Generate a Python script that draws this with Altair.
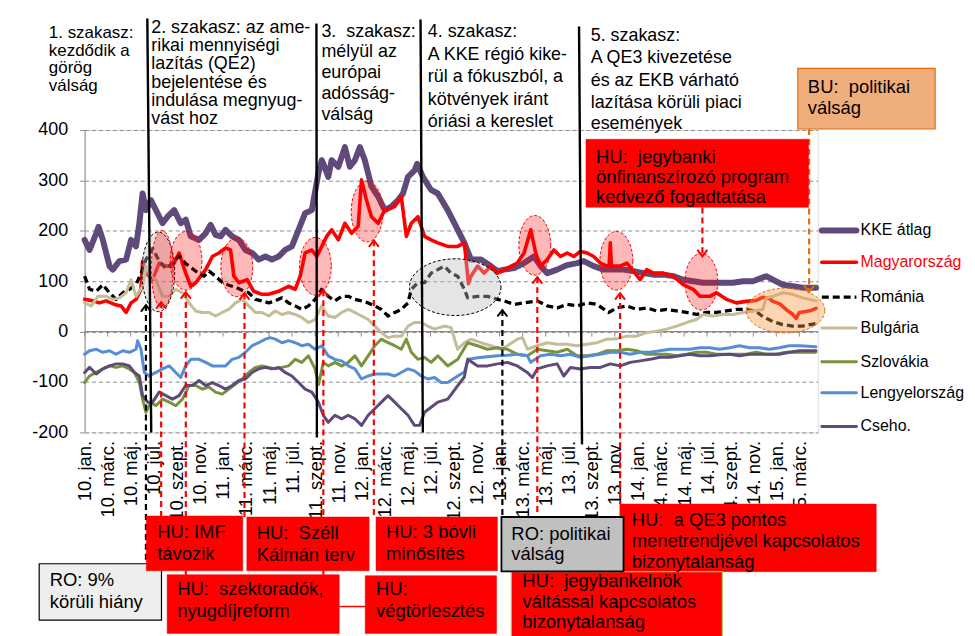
import altair as alt
import pandas as pd

FONT = "Liberation Sans"
NB = "\u00a0"  # keeps the double spaces of the original labels visible

# ---------------- data ----------------
tick_labels = ["10. jan.", "10. márc.", "10. máj.", "10. júl.", "10. szept.", "10. nov.",
               "11. jan.", "11. márc.", "11. máj.", "11. júl.", "11. szept.", "11. nov.",
               "12. jan.", "12. márc.", "12. máj.", "12. júl.", "12. szept.", "12. nov.",
               "13. jan.", "13. márc.", "13. máj.", "13. júl.", "13. szept.", "13. nov.",
               "14. jan.", "14. márc.", "14. máj.", "14. júl.", "14. szept.", "14. nov.",
               "15. jan.", "15. márc."]
tick_months = list(range(0, 64, 2))          # months since 2010 Jan
y_ticks = [-200, -100, 0, 100, 200, 300, 400]

# (months since 2010-01, value)
kke = [(0,182),(0.43,162),(1.01,195),(1.21,208),(1.58,182),(2.16,130),(2.45,123),(3.02,140),(3.6,143),(4.03,182),
       (4.46,169),(4.75,215),(5.03,274),(5.32,241),(5.75,261),(6.19,241),(6.76,215),(7.19,228),(7.77,241),(8.34,215),
       (8.77,222),(9.21,189),(9.93,182),(10.5,195),(10.93,212),(11.36,192),(11.8,189),(12.23,202),(12.8,189),(13.38,182),
       (13.95,162),(14.53,156),(15.1,143),(15.68,149),(16.25,143),(16.83,149),(17.4,162),(17.98,169),(18.56,202),(19.13,235),
       (19.71,241),(20.28,314),(20.57,340),(20.71,333),(21.14,307),(21.43,340),(22.01,327),(22.58,366),(23.01,327),(23.45,340),
       (23.88,366),(24.31,340),(24.88,288),(25.46,268),(26.04,241),(26.61,248),(27.19,261),(27.62,274),(28.05,307),(28.62,320),
       (28.85,333),(29.34,307),(30.06,281),(30.64,274),(31.5,241),(32.37,202),(32.94,176),(33.52,143),(34.38,143),(35.24,130),
       (35.82,120),(36.39,123),(37.26,126),(38.12,136),(38.98,149),(39.56,130),(40.13,116),(40.99,123),(41.86,132),(42.72,136),
       (43.3,140),(44.16,130),(45.02,123),(45.89,123),(46.75,123),(47.61,120),(48.48,116),(49.34,113),(50.2,113),(51.07,110),
       (51.93,103),(52.79,100),(53.65,97),(54.52,97),(55.38,97),(56.24,97),(57.11,100),(57.97,100),(59.12,110),(59.7,103),
       (60.56,93),(61.42,90),(62.28,87),(63.44,87)]
hu = [(0,64),(0.72,61),(1.29,57),(1.87,61),(2.59,54),(3.16,51),(3.6,38),(4.03,57),(4.46,64),(4.89,84),(5.03,140),
      (5.32,116),(5.9,103),(6.47,136),(7.05,130),(7.62,130),(8.2,156),(8.77,116),(9.21,90),(9.64,97),(10.07,110),(10.5,123),
      (11.08,149),(11.65,156),(12.23,166),(12.66,162),(12.95,110),(13.38,97),(14.1,103),(14.67,80),(15.39,74),(15.97,74),
      (16.83,80),(17.69,90),(18.27,84),(18.7,110),(19.13,156),(19.71,162),(20.14,149),(20.57,169),(21.0,189),(21.43,202),
      (22.01,182),(22.58,215),(23.16,195),(23.73,209),(24.02,301),(24.45,261),(24.88,228),(25.46,215),(26.04,241),(26.9,248),
      (27.47,268),(27.91,189),(28.34,215),(28.91,228),(29.49,189),(30.06,182),(30.64,176),(31.5,169),(32.36,169),(32.94,176),
      (33.3,95),(33.52,110),(34.09,130),(34.67,116),(35.24,130),(35.82,116),(36.68,126),(37.54,136),(38.12,156),(38.7,202),
      (39.13,156),(39.56,130),(40.13,143),(40.71,162),(41.28,149),(41.86,156),(42.43,149),(43.01,159),(43.59,156),(44.16,149),
      (44.74,136),(45.31,130),(45.5,130),(45.6,176),(45.7,130),(46.46,130),(47.04,136),(47.61,120),(48.19,103),(48.76,123),
      (49.34,116),(50.2,116),(51.07,110),(51.93,93),(52.79,84),(53.37,70),(54.23,70),(54.81,77),(55.67,64),(56.53,57),
      (57.39,60),(58.26,62),(58.83,68),(59.4,66),(59.7,60),(60.3,55),(60.85,44),(61.4,35),(61.71,26),(62.0,38),(62.57,40),
      (63.0,42),(63.44,46)]
ro = [(0,110),(0.43,84),(1.01,80),(1.58,93),(2.16,77),(2.73,64),(3.31,77),(3.88,84),(4.46,93),(5.03,123),(5.32,143),
      (5.9,165),(6.47,140),(7.05,125),(7.62,136),(8.2,150),(8.77,135),(9.35,125),(9.93,115),(10.36,110),(10.79,120),
      (11.36,110),(11.94,98),(12.51,92),(13.09,88),(13.67,82),(14.24,77),(14.82,64),(15.39,61),(15.97,57),(16.54,61),
      (17.12,67),(17.69,57),(18.27,51),(18.84,44),(19.42,51),(19.99,64),(20.57,84),(21.14,70),(21.72,61),(22.3,70),
      (22.87,70),(23.45,64),(24.02,61),(24.6,57),(25.17,51),(25.75,44),(26.32,31),(26.9,38),(27.47,44),(28.05,57),
      (28.34,84),(28.91,97),(29.49,97),(30.06,116),(30.64,123),(31.21,130),(31.79,116),(32.36,110),(32.94,84),(33.23,67),
      (34.09,70),(34.95,70),(35.82,64),(36.39,61),(37.26,54),(38.12,57),(39.27,61),(40.13,51),(40.99,47),(41.86,54),
      (42.72,51),(43.59,57),(44.45,54),(45.46,38),(46.17,47),(47.04,51),(47.9,44),(48.76,47),(49.63,41),(50.49,44),
      (51.35,41),(52.22,38),(53.08,34),(53.94,38),(54.81,38),(55.67,41),(56.53,44),(57.39,44),(58.26,40),(58.83,30),
      (59.7,20),(60.56,14),(61.42,11),(62.28,11),(63.44,16)]
bg = [(0,57),(0.58,51),(1.15,70),(1.87,70),(2.45,64),(3.02,67),(3.6,77),(4.03,103),(4.46,70),(5.03,90),(5.32,130),
      (5.75,110),(6.19,103),(6.76,70),(7.34,70),(7.91,84),(8.49,77),(9.06,57),(9.64,41),(10.21,38),(10.79,38),(11.36,31),
      (11.94,38),(12.51,44),(13.09,57),(13.67,64),(14.24,51),(14.82,38),(15.39,38),(15.97,31),(16.54,41),(17.12,34),
      (17.69,38),(18.27,34),(18.84,28),(19.42,18),(19.99,24),(20.57,51),(21.14,31),(21.72,28),(22.3,38),(22.87,44),
      (23.45,38),(24.02,31),(24.6,24),(25.17,11),(25.75,-2),(26.32,-12),(26.9,-9),(27.47,-9),(28.05,11),(28.62,18),
      (29.2,18),(29.78,11),(30.35,5),(31.21,11),(31.79,8),(32.36,-35),(32.94,-22),(33.52,-15),(34.38,-22),(35.24,-28),
      (36.11,-35),(36.68,-28),(37.54,-15),(37.98,-12),(38.41,-35),(39.27,-28),(40.13,-22),(40.99,-25),(41.86,-25),
      (42.72,-28),(43.59,-25),(44.45,-22),(45.31,-15),(46.17,-14),(47.04,-9),(47.9,-9),(48.76,-2),(49.63,1),(50.49,5),
      (51.35,11),(52.22,18),(53.08,24),(53.65,34),(54.52,31),(55.38,34),(56.24,34),(57.11,38),(57.97,41),(58.83,44),
      (59.12,67),(59.7,70),(60.56,77),(61.42,74),(62.28,67),(63.44,61)]
sk = [(0,-101),(0.43,-88),(1.01,-81),(1.58,-74),(2.16,-68),(2.73,-71),(3.31,-68),(3.88,-74),(4.32,-81),(4.75,-101),
      (5.03,-134),(5.32,-160),(5.75,-140),(6.19,-147),(6.76,-134),(7.34,-140),(7.91,-147),(8.49,-134),(9.06,-107),
      (9.64,-107),(10.21,-114),(10.79,-110),(11.36,-120),(11.94,-124),(12.51,-114),(13.09,-104),(13.67,-94),(14.24,-81),
      (14.82,-71),(15.39,-68),(15.97,-71),(16.54,-74),(17.12,-71),(17.69,-68),(18.27,-55),(18.84,-61),(19.42,-48),
      (19.99,-74),(20.3,-105),(20.71,-61),(21.14,-68),(21.72,-61),(22.3,-68),(22.87,-61),(23.45,-48),(24.02,-68),
      (24.6,-48),(25.17,-28),(25.75,-15),(26.32,-22),(26.9,-28),(27.47,-35),(27.91,-15),(28.34,-41),(28.91,-55),
      (29.49,-51),(30.06,-61),(30.64,-48),(31.5,-68),(32.37,-55),(33.23,-22),(34.09,-28),(34.95,-35),(35.82,-32),
      (36.68,-35),(37.54,-45),(38.41,-48),(39.27,-35),(40.13,-38),(40.99,-41),(41.86,-35),(42.72,-48),(43.59,-48),
      (44.45,-45),(45.31,-38),(46.17,-38),(47.04,-35),(47.9,-38),(48.76,-45),(49.63,-45),(50.49,-45),(51.35,-48),
      (52.22,-45),(53.08,-41),(53.94,-41),(54.81,-45),(55.67,-45),(56.53,-45),(57.39,-45),(58.26,-41),(59.12,-45),
      (59.98,-45),(60.85,-41),(61.71,-41),(62.57,-41),(63.44,-41)]
pl = [(0,-45),(0.43,-38),(1.01,-35),(1.58,-41),(2.16,-38),(2.73,-45),(3.31,-38),(3.88,-41),(4.46,-35),(4.6,-18),
      (4.89,-35),(5.18,-81),(5.61,-88),(6.19,-81),(6.76,-74),(7.34,-68),(7.91,-81),(8.34,-91),(8.77,-68),(9.21,-55),
      (9.93,-55),(10.5,-61),(11.08,-68),(11.65,-68),(12.23,-68),(12.8,-55),(13.38,-51),(13.95,-41),(14.53,-28),(15.1,-22),
      (15.68,-15),(16.11,-12),(16.54,-15),(17.12,-22),(17.69,-18),(18.27,-22),(18.84,-28),(19.42,-25),(19.99,-35),
      (20.57,-28),(21.14,-48),(21.72,-55),(22.3,-58),(22.87,-68),(23.45,-74),(24.02,-94),(24.6,-88),(25.17,-84),
      (25.75,-84),(26.32,-84),(26.9,-88),(27.47,-81),(28.05,-74),(28.62,-78),(29.2,-88),(29.78,-94),(30.35,-91),
      (30.93,-101),(31.5,-101),(32.37,-88),(32.94,-80),(33.3,-55),(34.09,-52),(34.95,-50),(35.82,-48),(36.68,-47),
      (37.54,-45),(38.41,-48),(38.7,-61),(39.56,-48),(40.42,-45),(41.28,-48),(42.15,-45),(43.01,-51),(43.87,-48),
      (44.74,-45),(45.6,-41),(46.46,-41),(47.33,-45),(48.19,-41),(49.05,-41),(49.91,-38),(50.78,-35),(51.64,-35),
      (52.5,-35),(53.37,-32),(54.23,-32),(55.09,-35),(55.96,-32),(56.82,-28),(57.68,-32),(58.54,-32),(59.41,-35),
      (60.27,-32),(61.13,-28),(62.0,-28),(63.44,-30)]
cz = [(0,-81),(0.43,-71),(1.01,-84),(1.58,-74),(2.16,-68),(2.73,-64),(3.31,-64),(3.88,-68),(4.32,-81),(4.75,-88),
      (5.03,-127),(5.47,-140),(5.9,-140),(6.47,-120),(7.05,-127),(7.62,-134),(8.2,-127),(8.77,-107),(9.35,-107),
      (9.93,-97),(10.5,-107),(11.08,-101),(11.65,-107),(12.23,-114),(12.8,-107),(13.38,-97),(13.95,-94),(14.53,-81),
      (15.1,-74),(15.68,-71),(16.25,-74),(16.83,-71),(17.4,-81),(17.98,-88),(18.56,-101),(19.13,-114),(19.71,-120),
      (20.28,-140),(20.71,-166),(21.14,-180),(21.72,-166),(22.3,-173),(22.87,-166),(23.45,-173),(24.02,-186),
      (24.6,-166),(25.17,-153),(25.75,-140),(26.32,-127),(26.9,-140),(27.47,-153),(28.05,-166),(28.62,-186),
      (29.06,-186),(29.49,-160),(30.06,-150),(30.64,-140),(31.5,-134),(32.37,-107),(32.94,-90),(33.23,-55),(34.09,-68),
      (34.95,-68),(35.82,-64),(36.68,-61),(37.54,-68),(38.41,-81),(38.84,-91),(39.27,-74),(40.13,-68),(40.99,-64),
      (41.57,-88),(42.15,-71),(43.01,-74),(43.87,-71),(44.74,-71),(45.6,-64),(46.46,-68),(47.33,-61),(48.19,-58),
      (49.05,-55),(49.91,-51),(50.78,-51),(51.64,-48),(52.5,-45),(53.37,-48),(54.23,-48),(55.09,-46),(55.96,-45),
      (56.82,-48),(57.68,-45),(58.54,-45),(59.41,-45),(60.27,-45),(61.13,-41),(62.0,-38),(63.44,-38)]

series_names = ["KKE átlag", "Magyarország", "Románia", "Bulgária", "Szlovákia", "Lengyelország", "Cseho."]
series_points = [kke, hu, ro, bg, sk, pl, cz]

# ---------------- styles ----------------
styles = {
    "KKE átlag":     dict(color="#604A7B", width=6.0, dash=None),
    "Magyarország":  dict(color="#FF0000", width=3.6, dash=None),
    "Románia":       dict(color="#000000", width=3.3, dash=[7, 4]),
    "Bulgária":      dict(color="#C4BD97", width=3.0, dash=None),
    "Szlovákia":     dict(color="#77933C", width=3.0, dash=None),
    "Lengyelország": dict(color="#558ED5", width=3.0, dash=None),
    "Cseho.":        dict(color="#604A7B", width=3.0, dash=None),
}
legend_label_color = {"Magyarország": "#FF0000"}
legend_pos_v = [200.7, 137.5, 68.4, 7.2, -59.9, -121.1, -188.2]
GRAY = "#8C8C8C"

xs = alt.Scale(domain=[0, 63.6], nice=False, zero=False)
ys = alt.Scale(domain=[-200, 400], nice=False, zero=False)
label_expr = "[" + ",".join("'" + l + "'" for l in tick_labels) + "][round(datum.value/2)]"
x_axis = alt.Axis(values=tick_months, labelExpr=label_expr, labelAngle=270, labelAlign="right",
                  labelBaseline="middle", labelPadding=8, labelFontSize=18.5, labelFont=FONT,
                  labelColor="#000000", grid=False, domain=False, ticks=False, title=None,
                  labelOverlap=False, labelFlush=False, labelBound=False)
y_axis = alt.Axis(values=y_ticks, labelExpr="''+datum.value", labelFontSize=18, labelFont=FONT,
                  labelColor="#000000", labelPadding=12, tickSize=5, tickColor=GRAY, domainColor=GRAY,
                  gridColor=GRAY, gridDash=[4, 3], gridWidth=1, title=None)


def XY():
    return dict(x=alt.X("m:Q", scale=xs, axis=x_axis), y=alt.Y("v:Q", scale=ys, axis=y_axis))


layers = []

# zero axis line with ticks
layers.append(alt.Chart(pd.DataFrame({"m": [0], "m2": [63.6], "v": [0]}))
              .mark_rule(color=GRAY, strokeWidth=1.3).encode(**XY(), x2="m2:Q"))
layers.append(alt.Chart(pd.DataFrame({"m": tick_months, "v": [0] * len(tick_months), "v2": [-9.9] * len(tick_months)}))
              .mark_rule(color=GRAY, strokeWidth=1).encode(**XY(), y2="v2:Q"))

# series lines
for name, pts in zip(series_names, series_points):
    st = styles[name]
    df = pd.DataFrame(pts, columns=["m", "v"])
    kw = dict(color=st["color"], strokeWidth=st["width"], strokeJoin="round")
    if st["dash"]:
        kw["strokeDash"] = st["dash"]
    else:
        kw["strokeCap"] = "round"
    layers.append(alt.Chart(df).mark_line(**kw).encode(**XY()))


# ---------------- annotations ----------------
def ellipse_path(w, h):
    s = max(w, h)
    a, b, k = w / s, h / s, 0.5523
    f = lambda z: f"{z:.4f}"
    return (f"M {f(a)} 0 C {f(a)} {f(k*b)} {f(k*a)} {f(b)} 0 {f(b)} "
            f"C {f(-k*a)} {f(b)} {f(-a)} {f(k*b)} {f(-a)} 0 "
            f"C {f(-a)} {f(-k*b)} {f(-k*a)} {f(-b)} 0 {f(-b)} "
            f"C {f(k*a)} {f(-b)} {f(a)} {f(-k*b)} {f(a)} 0 Z")


ell_style = {"g": ("#BFBFBF", "#000000", 0.4), "r": ("#FF0000", "#FF0000", 0.28), "o": ("#F79646", "#E46C0A", 0.4)}
ellipses = [("g", 6.39, 118.4, 33, 80), ("g", 32.15, 88.2, 92, 57),
            ("r", 6.73, 123.6, 22, 78), ("r", 8.80, 140.5, 32, 59), ("r", 13.20, 127.6, 32, 59),
            ("r", 20.02, 129.6, 32, 58), ("r", 24.51, 238.2, 32, 61), ("r", 39.05, 171.1, 32, 60),
            ("r", 46.13, 140.5, 33, 59), ("r", 53.50, 99.0, 33, 57), ("o", 60.80, 41.8, 79, 45)]
ell_df = pd.DataFrame([dict(m=m, v=v, shape=ellipse_path(w, h), size=max(w, h) ** 2,
                            fill=ell_style[k][0], stroke=ell_style[k][1], fo=ell_style[k][2])
                       for k, m, v, w, h in ellipses])
layers.append(alt.Chart(ell_df).mark_point(filled=True, opacity=1, strokeWidth=1, strokeDash=[3, 2]).encode(
    **XY(), shape=alt.Shape("shape:N", scale=None), size=alt.Size("size:Q", scale=None),
    fill=alt.Fill("fill:N", scale=None), stroke=alt.Stroke("stroke:N", scale=None),
    fillOpacity=alt.FillOpacity("fo:Q", scale=None)))

# phase separator lines
phase_lines = [(5.44, 621.1, 5.78, -200), (20.11, 611.2, 20.15, -209.9),
               (29.14, 619.1, 29.34, -200), (42.89, 605.3, 43.15, -223.7)]
layers.append(alt.Chart(pd.DataFrame(phase_lines, columns=["m", "v", "m2", "v2"]))
              .mark_rule(color="#000000", strokeWidth=2.4).encode(**XY(), x2="m2:Q", y2="v2:Q"))

# dashed arrows
RED, BLK, ORG = "#FF0000", "#000000", "#E46C0A"
arrows = [(5.32, 52.6, -460.5, BLK, "up"), (6.64, 58.6, -365.8, RED, "up"), (8.78, 78.4, -482.2, RED, "up"),
          (13.87, 76.3, -367.8, RED, "up"), (20.71, 82.2, -484.2, RED, "up"), (25.09, 181.1, -367.8, RED, "up"),
          (39.27, 108.0, -476.3, RED, "up"), (46.45, 76.3, -342.1, RED, "up"), (36.24, 42.8, -367.8, BLK, "up"),
          (53.59, 246.1, 149.3, RED, "down"), (62.85, 402.0, 78.3, ORG, "down")]
arr_df = pd.DataFrame(arrows, columns=["m", "v", "v2", "c", "dir"])
layers.append(alt.Chart(arr_df).mark_rule(strokeWidth=2.2, strokeDash=[6, 4]).encode(
    **XY(), y2="v2:Q", color=alt.Color("c:N", scale=None)))
head_df = pd.DataFrame([dict(m=m, v=(v if d == "up" else v2), c=c,
                             shape=("M -1 1.3 L 0 0 L 1 1.3" if d == "up" else "M -1 -1.3 L 0 0 L 1 -1.3"))
                        for m, v, v2, c, d in arrows])
layers.append(alt.Chart(head_df).mark_point(filled=False, opacity=1, strokeWidth=2, size=100).encode(
    **XY(), shape=alt.Shape("shape:N", scale=None), stroke=alt.Stroke("c:N", scale=None)))

# connector
layers.append(alt.Chart(pd.DataFrame({"m": [22.09], "m2": [24.34], "v": [-545.4]}))
              .mark_rule(color=RED, strokeWidth=1.5).encode(**XY(), x2="m2:Q"))

# boxes
boxes = [(61.87, 73.78, 522.4, 402.0, "#F0AE7C", "#E46C0A", 1.2),
         (43.49, 62.80, 381.6, 246.6, RED, RED, 0.5),
         (-3.94, 6.67, -460.5, -572.4, "#EEEEEE", "#000000", 1.2),
         (5.35, 13.72, -365.8, -474.3, RED, RED, 0.5),
         (14.07, 24.68, -367.8, -474.3, RED, RED, 0.5),
         (25.28, 35.81, -367.8, -474.3, RED, RED, 0.5),
         (7.16, 22.09, -482.2, -598.7, RED, RED, 0.5),
         (24.34, 35.73, -484.2, -598.7, RED, RED, 0.5),
         (46.43, 68.67, -342.1, -476.3, RED, RED, 0.5),
         (37.02, 55.32, -476.3, -620.0, RED, "#92D050", 1.2),
         (36.16, 46.75, -367.8, -475.8, "#C0C0C0", "#000000", 1.8)]
box_df = pd.DataFrame(boxes, columns=["m", "m2", "v", "v2", "fill", "stroke", "sw"])
layers.append(alt.Chart(box_df).mark_rect().encode(
    **XY(), x2="m2:Q", y2="v2:Q", fill=alt.Fill("fill:N", scale=None),
    stroke=alt.Stroke("stroke:N", scale=None), strokeWidth=alt.StrokeWidth("sw:Q", scale=None)))

# texts
text_blocks = [
    (-3.1, 17, [(582.2, "1. szakasz:"), (547.2, "kezdődik a"), (512.2, "görög"), (477.2, "válság")]),
    (5.78, 18, [(593.4, "2. szakasz: az ame-"), (556.9, "rikai mennyiségi"), (520.4, "lazítás (QE2)"),
                (483.9, "bejelentése és"), (447.6, "indulása megnyug-"), (411.3, "vást hoz")]),
    (20.54, 18, [(585.5, "3. " + NB + "szakasz:"), (544.1, "mélyül az"), (502.6, "európai"), (461.2, "adósság-"),
                 (419.7, "válság")]),
    (29.77, 18, [(584.3, "4. szakasz:"), (539.5, "A KKE régió kike-"), (494.7, "rül a fókuszból, a"),
                 (449.9, "kötvények iránt"), (405.3, "óriási a kereslet")]),
    (43.9, 18, [(577.4, "5. szakasz:"), (532.2, "A QE3 kivezetése"), (487.4, "és az EKB várható"),
                (444.4, "lazítása körüli piaci"), (401.8, "események")]),
    (62.74, 18.5, [(473.4, "BU: " + NB + "politikai"), (431.2, "válság")]),
    (44.36, 18.5, [(335.5, "HU: " + NB + "jegybanki"), (294.0, "önfinanszírozó program"),
                   (254.5, "kedvező fogadtatása")]),
    (6.30, 18.5, [(-410.0, "HU: IMF"), (-453.0, "távozik")]),
    (14.93, 18.5, [(-411.0, "HU: " + NB + "Széll"), (-455.0, "Kálmán terv")]),
    (26.15, 18.5, [(-410.0, "HU: 3 bóvli"), (-454.0, "minősítés")]),
    (-3.02, 18.5, [(-504.6, "RO: 9%"), (-548.0, "körüli hiány")]),
    (8.03, 18.5, [(-523.1, "HU: " + NB + "szektoradók,"), (-567.1, "nyugdíjreform")]),
    (25.28, 18.5, [(-523.1, "HU:"), (-567.1, "végtörlesztés")]),
    (37.02, 18.5, [(-412.6, "RO: politikai"), (-454.0, "válság")]),
    (47.46, 18.5, [(-386.1, "HU: " + NB + "a QE3 pontos"), (-427.6, "menetrendjével kapcsolatos"),
                   (-468.4, "bizonytalanság")]),
    (37.97, 18.5, [(-506.3, "HU: " + NB + "jegybankelnök"), (-547.8, "váltással kapcsolatos"),
                   (-588.6, "bizonytalanság")]),
]
txt_df = pd.DataFrame([dict(m=m, v=v, t=t, fs=fs) for m, fs, lines in text_blocks for v, t in lines])
layers.append(alt.Chart(txt_df).mark_text(align="left", baseline="alphabetic", font=FONT, color="#000000").encode(
    **XY(), text="t:N", size=alt.Size("fs:Q", scale=None)))

# legend
for name, lv in zip(series_names, legend_pos_v):
    st = styles[name]
    kw = dict(color=st["color"], strokeWidth=st["width"])
    if st["dash"]:
        kw["strokeDash"] = st["dash"]
    else:
        kw["strokeCap"] = "round"
    layers.append(alt.Chart(pd.DataFrame({"m": [63.95], "m2": [66.95], "v": [lv]}))
                  .mark_rule(**kw).encode(**XY(), x2="m2:Q"))
leg_df = pd.DataFrame({"m": [67.31] * len(series_names), "v": legend_pos_v, "t": series_names,
                       "c": [legend_label_color.get(n, "#000000") for n in series_names]})
layers.append(alt.Chart(leg_df).mark_text(align="left", baseline="middle", font=FONT, fontSize=16).encode(
    **XY(), text="t:N", color=alt.Color("c:N", scale=None)))

chart = (alt.layer(*layers)
         .properties(width=737, height=304, padding={"left": 77, "top": 121, "right": 150, "bottom": 203},
                     autosize=alt.AutoSizeParams(type="none"), background="white")
         .configure_view(stroke=None)
         .configure(font=FONT))

chart.save("out.html", embed_options={"renderer": "svg", "actions": False})
